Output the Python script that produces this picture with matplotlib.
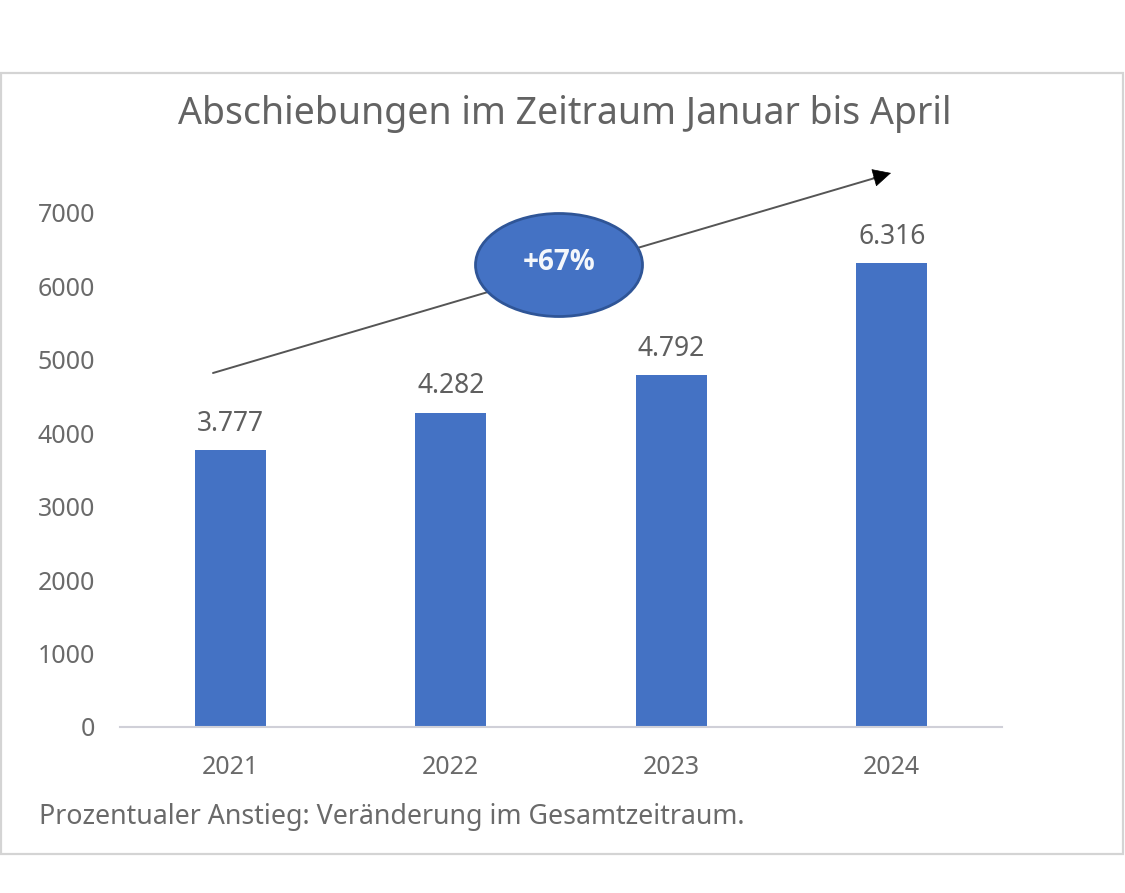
import matplotlib.pyplot as plt
from matplotlib.patches import Ellipse, Rectangle

years = ["2021", "2022", "2023", "2024"]
deportations = [3777, 4282, 4792, 6316]
value_labels = ["3.777", "4.282", "4.792", "6.316"]
y_ticks = [0, 1000, 2000, 3000, 4000, 5000, 6000, 7000]

W, H = 1125, 893
plt.rcParams['font.family'] = ['Noto Sans', 'DejaVu Sans']

fig = plt.figure(figsize=(W / 100, H / 100), dpi=100)

# grey frame around the pasted chart, has to stay behind the axes
fig.add_artist(Rectangle((1 / W, 1 - 854 / H), 1122 / W, 781 / H, transform=fig.transFigure,
                         facecolor='white', edgecolor='#d4d4d4', linewidth=1.6, zorder=-1))

# axes in pixel terms: left 120, right 1002, y=0 at 727, 7000 at 213
ax = fig.add_axes([120 / W, 1 - 727 / H, 882 / W, 514 / H])
ax.patch.set_alpha(0)
ax.bar(years, deportations, width=0.32, color='#4472c4')
ax.set_xlim(-0.5, 3.5)
ax.set_ylim(0, 7000)
ax.set_yticks(y_ticks)
ax.tick_params(axis='both', length=0, labelsize=18, labelcolor='#6a6a6a')
ax.tick_params(axis='x', pad=20.5)
ax.tick_params(axis='y', pad=18)
for s in ['top', 'right', 'left']:
    ax.spines[s].set_visible(False)
ax.spines['bottom'].set_color('#d0d0d8')
ax.spines['bottom'].set_linewidth(1.5)

for i, v in enumerate(deportations):
    ax.annotate(value_labels[i], (i, v), xytext=(0, 8.7), textcoords='offset points',
                ha='center', va='bottom', fontsize=19, color='#5f5f5f')

fig.text(565 / W, 1 - 114 / H, "Abschiebungen im Zeitraum Januar bis April", ha='center', va='center',
         fontsize=27, color='#636363')
fig.text(39 / W, 1 - 817 / H, "Prozentualer Anstieg: Veränderung im Gesamtzeitraum.", ha='left', va='center',
         fontsize=19.3, color='#6a6a6a')

# trend arrow and the oval on top of it
overlay = fig.add_axes([0, 0, 1, 1])
overlay.set_xlim(0, W)
overlay.set_ylim(H, 0)
overlay.axis('off')
overlay.annotate("", xy=(875, 178), xytext=(213, 373),
                 arrowprops=dict(arrowstyle='-', color='#555555', linewidth=1.4, shrinkA=0, shrinkB=0))
overlay.annotate("", xy=(891, 173), xytext=(873, 178),
                 arrowprops=dict(arrowstyle='-|>,head_length=1.2,head_width=0.6', color='black',
                                 linewidth=0.5, shrinkA=0, shrinkB=0))
overlay.add_patch(Ellipse((559, 265), 167, 103, facecolor='#4472c4', edgecolor='#2f5597', linewidth=2, zorder=3))
overlay.text(559, 263, "+67%", ha='center', va='center', fontsize=20, fontweight='bold', color='#f4f7fb',
             family=['Open Sans', 'DejaVu Sans'], zorder=4)

fig.savefig("out.png", dpi=100)
